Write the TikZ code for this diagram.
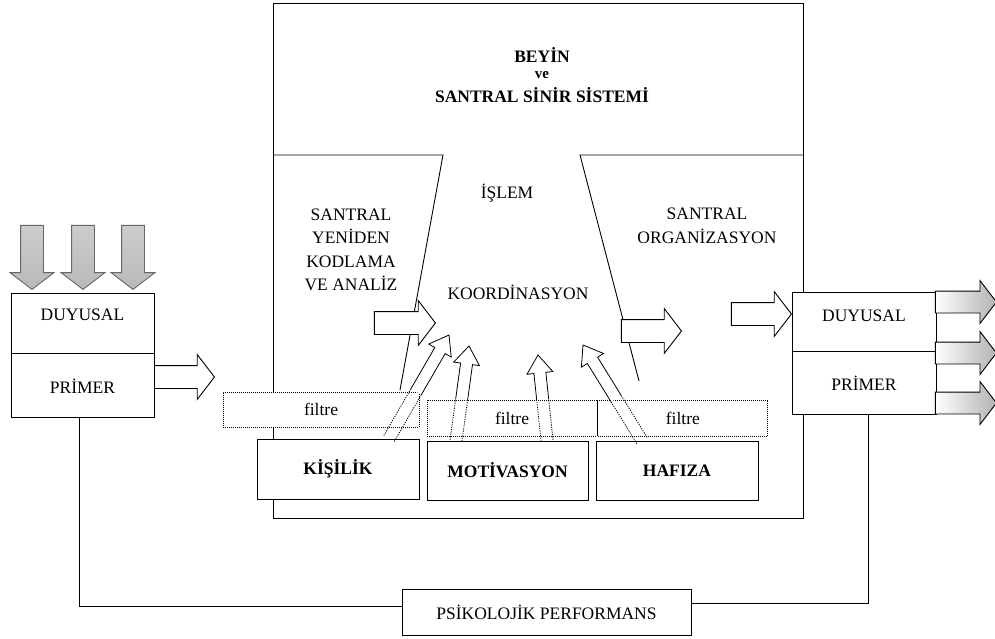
\documentclass[tikz,border=0pt]{standalone}
\usepackage{fontspec}
\setmainfont{Liberation Serif}
\usetikzlibrary{positioning,shapes.arrows,calc}

\newcommand{\yazi}{\fontsize{17.5}{23.5}\selectfont}
% ince ok: #1 baslangic, #2 filtre ustu, #3 uc
\newcommand{\inceok}[3]{%
  \coordinate (#3b) at ($(#3)!18pt!(#2)$);
  \draw[inceline, dash pattern=on 1.2pt off 1.2pt]
    ($(#1)!6pt!90:(#3)$) -- ($(#2)!6pt!90:(#3)$)
    ($(#1)!6pt!-90:(#3)$) -- ($(#2)!6pt!-90:(#3)$);
  \draw[inceline, fill=white]
    ($(#2)!6pt!90:(#3)$) -- ($(#3b)!6pt!90:(#3)$) -- ($(#3b)!13pt!90:(#3)$)
    -- (#3) -- ($(#3b)!13pt!-90:(#3)$) -- ($(#3b)!6pt!-90:(#3)$) -- ($(#2)!6pt!-90:(#3)$);
}

\begin{document}
\begin{tikzpicture}[x=1pt, y=-1pt, font=\yazi,
  box/.style={draw, line width=0.9pt, fill=white, inner sep=0pt},
  kalin/.style={box, font=\yazi\bfseries},
  filt/.style={draw, fill=white, line width=0.9pt, dash pattern=on 1pt off 1pt,
               inner sep=0pt, minimum height=36pt},
  hollow/.style={single arrow, draw, fill=white, line width=0.9pt, inner sep=11pt,
                 minimum height=61pt,
                 single arrow head extend=11pt, single arrow tip angle=105, anchor=tip},
  downar/.style={hollow, shape border rotate=270, minimum height=64pt,
                 single arrow head extend=10.5pt, draw=gray!80!black,
                 top color=gray!40, middle color=gray!3, bottom color=gray!55},
  outar/.style={hollow, single arrow head extend=10.5pt, inner sep=10.5pt,
                left color=white, right color=gray!60},
  inceline/.style={line width=0.8pt, line join=miter}
]
\useasboundingbox (0,0) rectangle (995,639);

% beyin ve santral sinir sistemi
\node[draw, line width=0.9pt, inner sep=0pt, minimum width=530pt, minimum height=515pt]
  (beyin) at (538,260.5) {};
\draw[line width=0.9pt] (273,155) -- (443,155) -- (400,390);
\draw[line width=0.9pt] (803,155) -- (580,155) -- (639,381);

\node[font=\yazi\bfseries] (beyinT) at (542,55) {BEYİN};
\node[font=\bfseries\fontsize{15}{17}\selectfont] (ve) at (542,75) {ve};
\node[font=\yazi\bfseries] (sss) at (542,95) {SANTRAL SİNİR SİSTEMİ};
\node (islem) at (507,193) {İŞLEM};
\node[align=center] (kodlama) at (351,250) {SANTRAL\\YENİDEN\\KODLAMA\\VE ANALİZ};
\node[align=center] (organ) at (707,226) {SANTRAL\\ORGANİZASYON};
\node (koord) at (518,292) {KOORDİNASYON};

% bos oklar
\node[hollow] (arL) at (215,377) {};
\node[hollow] (arK) at (436,323) {};
\node[hollow, minimum height=60pt] (arO) at (682,331) {};
\node[hollow, minimum height=60pt] (arR) at (792,314) {};

% filtreler
\node[filt, minimum width=196pt, minimum height=35pt] (f1) at (321,409.5) {filtre};
\node[filt, minimum width=170pt] (f2) at (512,418) {filtre};
\node[filt, minimum width=170pt, right=0pt of f2] (f3) {filtre};

\node[kalin, minimum width=162pt, minimum height=60pt] (kis) at (338,469) {KİŞİLİK};
\node[kalin, minimum width=161pt, minimum height=59pt] (mot) at (507.5,470.5) {MOTİVASYON};
\node[kalin, minimum width=162pt, minimum height=59pt] (haf) at (677,470.5) {HAFIZA};

% ince oklar
\coordinate (kisA) at ([xshift=51]kis.north);
\coordinate (kisU) at (449,335);
\coordinate (motA1) at ([xshift=-51.5]mot.north);
\coordinate (motU1) at (469,346);
\coordinate (motA2) at ([xshift=39.5]mot.north);
\coordinate (motU2) at (538,355);
\coordinate (hafA) at ([xshift=-35]haf.north);
\coordinate (hafU) at (583,345);
\coordinate (kisF) at ($(kisA)!0.452!(kisU)$);
\coordinate (motF1) at ($(motA1)!0.432!(motU1)$);
\coordinate (motF2) at ($(motA2)!0.477!(motU2)$);
\coordinate (hafF) at ($(hafA)!0.4375!(hafU)$);
\inceok{kisA}{kisF}{kisU}
\inceok{motA1}{motF1}{motU1}
\inceok{motA2}{motF2}{motU2}
\inceok{hafA}{hafF}{hafU}

% duyusal kutular
\node[box, minimum width=143pt, minimum height=60pt, text depth=16pt] (duyL) at (82.5,323) {DUYUSAL};
\node[box, minimum width=143pt, minimum height=64pt, below=0pt of duyL] (priL) {PRİMER};
\node[box, minimum width=144pt, minimum height=59pt, text depth=11pt] (duyR) at (864,321.5) {DUYUSAL};
\node[box, minimum width=144pt, minimum height=63pt, below=0pt of duyR] (priR) {PRİMER};

\foreach \x/\n in {32/1,83/2,133/3}
  \node[downar] (gir\n) at (\x,290) {};
\foreach \y/\n in {302/1,353/2,403/3}
  \node[outar] (cik\n) at (997,\y) {};

% performans
\node[box, minimum width=289pt, minimum height=46pt] (psi) at (546.5,612) {PSİKOLOJİK PERFORMANS};
\draw[line width=0.9pt] ([xshift=-3.5]priL.south) |- ([yshift=6]psi.west);
\draw[line width=0.9pt] ([xshift=4]priR.south) |- ([yshift=9]psi.east);
\end{tikzpicture}
\end{document}
